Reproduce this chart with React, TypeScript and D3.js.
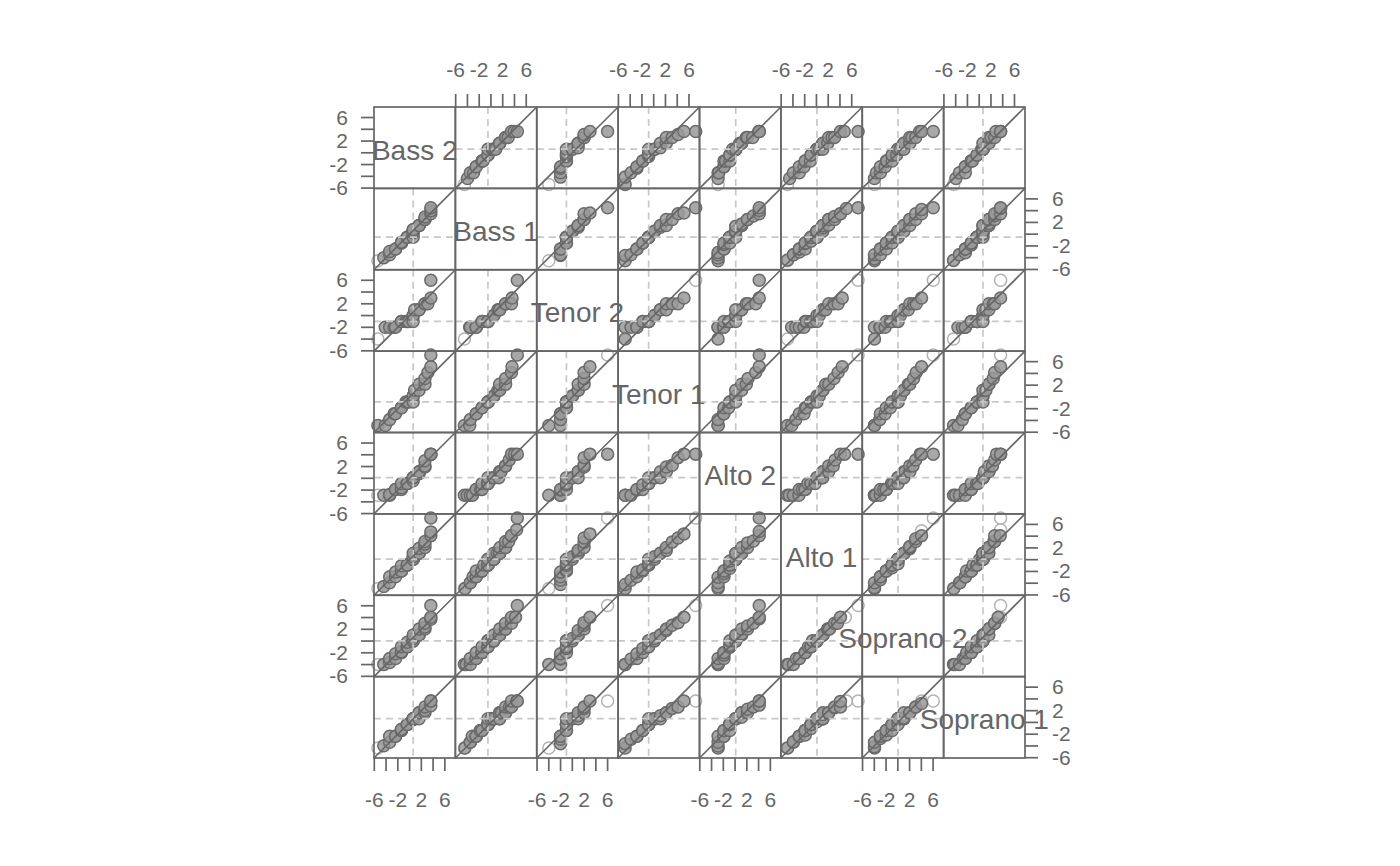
import React from 'react';
import * as d3 from 'd3';

// ---------- data ----------
const voiceParts = ['Bass 2', 'Bass 1', 'Tenor 2', 'Tenor 1', 'Alto 2', 'Alto 1', 'Soprano 2', 'Soprano 1'];

const bass2Heights = [66, 67, 68, 68, 69, 69, 70, 70, 70, 71, 71, 71, 72, 72, 72, 72, 72, 73, 73, 73, 74, 74, 74, 75, 75, 75];
const bass1Heights = [66, 66, 67, 67, 67, 68, 68, 68, 68, 69, 69, 69, 69, 70, 70, 70, 70, 70, 70, 70, 71, 71, 71, 71, 71, 72, 72, 72, 72, 72, 73, 73, 73, 73, 74, 74, 74, 75, 75];
const tenor2Heights = [66, 68, 68, 68, 68, 69, 69, 69, 69, 69, 69, 70, 70, 71, 71, 71, 72, 72, 72, 73, 76];
const tenor1Heights = [64, 64, 65, 66, 66, 67, 67, 68, 68, 68, 68, 69, 69, 70, 70, 71, 71, 72, 73, 74, 76];
const alto2Heights = [64, 64, 64, 64, 65, 65, 65, 65, 66, 66, 66, 66, 66, 67, 67, 67, 67, 67, 68, 68, 68, 69, 69, 70, 71, 71, 71];
const alto1Heights = [60, 60, 61, 61, 62, 62, 62, 63, 63, 63, 63, 64, 64, 64, 64, 64, 65, 65, 65, 65, 65, 66, 66, 66, 66, 66, 67, 67, 67, 68, 68, 69, 69, 70, 72];
const soprano2Heights = [60, 60, 60, 61, 61, 61, 62, 62, 62, 63, 63, 63, 63, 64, 64, 64, 64, 64, 65, 65, 65, 65, 66, 66, 66, 67, 67, 68, 68, 70];
const soprano1Heights = [60, 60, 61, 61, 62, 62, 62, 62, 63, 63, 63, 63, 64, 64, 64, 64, 64, 65, 65, 65, 65, 65, 65, 65, 65, 66, 66, 66, 66, 66, 67, 67, 67, 68, 68, 68];

const heightsByPart = [bass2Heights, bass1Heights, tenor2Heights, tenor1Heights, alto2Heights, alto1Heights, soprano2Heights, soprano1Heights];

const tickValues = [-6, -4, -2, 0, 2, 4, 6];
const tickLabels = [-6, -2, 2, 6];
const axisLimits: [number, number] = [-6.05, 7.79];

// panels whose extreme quantile pairs are drawn as open circles: [row, col, low count, high count]
const openTails: [number, number, number, number][] = [
  [0, 1, 1, 0], [0, 2, 1, 0], [0, 4, 1, 0], [0, 5, 1, 0], [0, 6, 1, 0], [0, 7, 1, 0],
  [1, 0, 1, 0], [1, 2, 1, 0], [1, 5, 1, 0], [1, 7, 1, 0],
  [2, 0, 1, 0], [2, 1, 1, 0], [2, 3, 0, 1], [2, 5, 1, 1], [2, 6, 0, 1], [2, 7, 1, 1],
  [3, 2, 0, 1], [3, 5, 0, 1], [3, 6, 0, 1], [3, 7, 0, 1],
  [4, 0, 1, 0],
  [5, 0, 1, 0], [5, 1, 1, 0], [5, 2, 1, 1], [5, 3, 0, 1], [5, 6, 0, 2], [5, 7, 1, 2],
  [6, 0, 1, 0], [6, 2, 0, 1], [6, 3, 0, 1], [6, 5, 0, 2], [6, 7, 0, 2],
  [7, 0, 1, 0], [7, 1, 1, 0], [7, 2, 1, 1], [7, 3, 0, 1], [7, 5, 1, 2], [7, 6, 0, 2],
];

// ---------- layout ----------
const W = 1400;
const H = 866;
const X0 = 374;
const Y0 = 107;
const CELL = 81.375;
const N = voiceParts.length;
const X1 = X0 + CELL * N;
const Y1 = Y0 + CELL * N;
const TICK = 13;
const GRAY = '#666666';
const FONT = '"Liberation Sans", Arial, Helvetica, sans-serif';
const R = 6;

const centeredSorted = heightsByPart.map((arr) => {
  const m = d3.mean(arr) as number;
  return arr.map((v) => v - m).sort(d3.ascending);
});
const medians = centeredSorted.map((s) => d3.median(s) as number);

function qqPairs(sx: number[], sy: number[]): [number, number][] {
  const n = Math.min(sx.length, sy.length);
  return d3.range(n).map((i) => {
    const p = n === 1 ? 0 : i / (n - 1);
    return [d3.quantileSorted(sx, p) as number, d3.quantileSorted(sy, p) as number];
  });
}

export default function App() {
  const x = d3.scaleLinear().domain(axisLimits).range([0, CELL]);
  const y = d3.scaleLinear().domain(axisLimits).range([CELL, 0]);

  const panels: React.ReactNode[] = [];
  for (let r = 0; r < N; r++) {
    for (let c = 0; c < N; c++) {
      const key = `${r}-${c}`;
      const tx = X0 + c * CELL;
      const ty = Y0 + r * CELL;
      if (r === c) {
        panels.push(
          <g key={key} transform={`translate(${tx},${ty})`}>
            <text x={CELL / 2} y={CELL / 2 + 12} textAnchor="middle" fontSize={28} fill={GRAY} fontFamily={FONT}>
              {voiceParts[r]}
            </text>
          </g>
        );
        continue;
      }
      const pairs = qqPairs(centeredSorted[c], centeredSorted[r]);
      const spec = openTails.find((o) => o[0] === r && o[1] === c);
      const nLo = spec ? spec[2] : 0;
      const nHi = spec ? spec[3] : 0;
      const filled = pairs.slice(nLo, pairs.length - nHi);
      const open = [...pairs.slice(0, nLo), ...pairs.slice(pairs.length - nHi)];
      panels.push(
        <g key={key} transform={`translate(${tx},${ty})`}>
          {open.map((p, i) => (
            <circle key={`o${i}`} cx={x(p[0])} cy={y(p[1])} r={R} fill="none" stroke="#b3b3b3" strokeWidth={1.5} />
          ))}
          {filled.map((p, i) => (
            <circle key={`f${i}`} cx={x(p[0])} cy={y(p[1])} r={R} fill="#999999" fillOpacity={0.85} stroke="#6a6a6a" strokeWidth={1.5} />
          ))}
          <line x1={x(medians[c])} x2={x(medians[c])} y1={0} y2={CELL} stroke="#c8c8c8" strokeWidth={1.7} strokeDasharray="7,5" />
          <line x1={0} x2={CELL} y1={y(medians[r])} y2={y(medians[r])} stroke="#c8c8c8" strokeWidth={1.7} strokeDasharray="7,5" />
          <line x1={x(axisLimits[0])} y1={y(axisLimits[0])} x2={x(axisLimits[1])} y2={y(axisLimits[1])} stroke={GRAY} strokeWidth={1.6} />
        </g>
      );
    }
  }

  const borders: React.ReactNode[] = [];
  for (let r = 0; r < N; r++) {
    for (let c = 0; c < N; c++) {
      borders.push(
        <rect key={`b${r}-${c}`} x={X0 + c * CELL} y={Y0 + r * CELL} width={CELL} height={CELL} fill="none" stroke={GRAY} strokeWidth={1.7} />
      );
    }
  }

  const axes: React.ReactNode[] = [];
  for (let c = 0; c < N; c++) {
    const top = c % 2 === 1;
    const ox = X0 + c * CELL;
    tickValues.forEach((v) => {
      const px = ox + x(v);
      axes.push(
        top ? (
          <line key={`tx${c}${v}`} x1={px} x2={px} y1={Y0 - TICK} y2={Y0} stroke={GRAY} strokeWidth={1.7} />
        ) : (
          <line key={`bx${c}${v}`} x1={px} x2={px} y1={Y1} y2={Y1 + TICK} stroke={GRAY} strokeWidth={1.7} />
        )
      );
    });
    tickLabels.forEach((v) => {
      const px = ox + x(v);
      axes.push(
        <text key={`lx${c}${v}`} x={px} y={top ? 77 : 807} textAnchor="middle" fontSize={21} fill={GRAY} fontFamily={FONT}>
          {v}
        </text>
      );
    });
  }
  for (let r = 0; r < N; r++) {
    const left = r % 2 === 0;
    const oy = Y0 + r * CELL;
    tickValues.forEach((v) => {
      const py = oy + y(v);
      axes.push(
        left ? (
          <line key={`ly${r}${v}`} x1={X0 - TICK} x2={X0} y1={py} y2={py} stroke={GRAY} strokeWidth={1.7} />
        ) : (
          <line key={`ry${r}${v}`} x1={X1} x2={X1 + TICK} y1={py} y2={py} stroke={GRAY} strokeWidth={1.7} />
        )
      );
    });
    tickLabels.forEach((v) => {
      const py = oy + y(v);
      axes.push(
        <text
          key={`tly${r}${v}`}
          x={left ? 348 : 1052}
          y={py + 7}
          textAnchor={left ? 'end' : 'start'}
          fontSize={21}
          fill={GRAY}
          fontFamily={FONT}
        >
          {v}
        </text>
      );
    });
  }

  return (
    <svg width={W} height={H} style={{ position: 'absolute', left: 0, top: 0, background: '#ffffff' }}>
      <rect x={0} y={0} width={W} height={H} fill="#ffffff" />
      {panels}
      {borders}
      {axes}
    </svg>
  );
}
